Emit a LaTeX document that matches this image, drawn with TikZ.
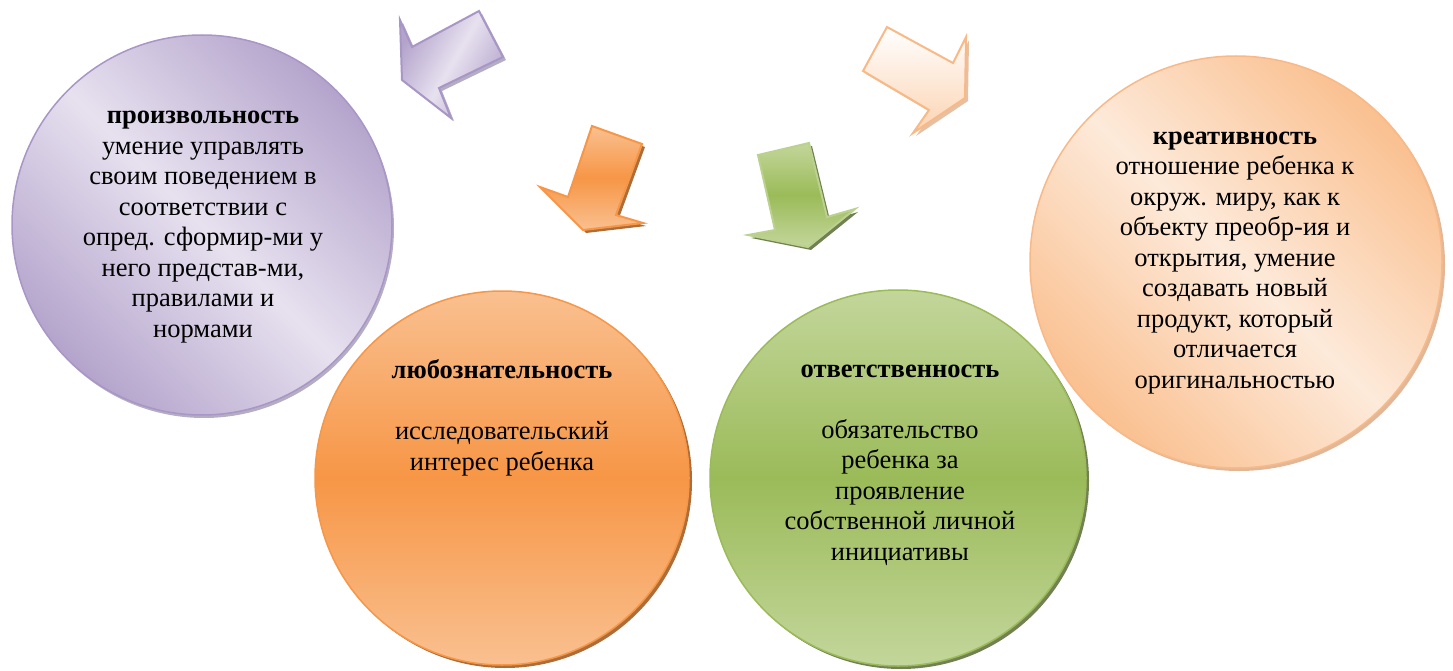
\documentclass[tikz,border=0pt]{standalone}
\usepackage{fontspec}
\setmainfont{Liberation Serif}
\usepackage{xcolor}
\usepackage{tikz}
\usetikzlibrary{positioning}
\usetikzlibrary{shapes,shadows,calc}

\definecolor{lilacDark}{RGB}{180,164,204}
\definecolor{lilacLight}{RGB}{231,225,239}
\definecolor{lilacLine}{RGB}{168,150,198}
\definecolor{lilacShadow}{RGB}{150,140,170}
\definecolor{orangeMid}{RGB}{247,150,70}
\definecolor{orangeLight}{RGB}{249,192,144}
\definecolor{orangeShadow}{RGB}{152,72,7}
\definecolor{greenMid}{RGB}{155,187,89}
\definecolor{greenLight}{RGB}{195,214,155}
\definecolor{greenShadow}{RGB}{79,98,40}
\definecolor{peachDark}{RGB}{250,192,144}
\definecolor{peachLight}{RGB}{253,234,218}
\definecolor{peachLine}{RGB}{249,185,135}
\definecolor{peachShadow}{RGB}{217,165,127}

\begin{document}
\begin{tikzpicture}[x=1pt,y=-1pt,
  bubble/.style={circle,draw,line width=1.5,inner sep=0},
  note/.style={align=center,font=\fontsize{26.5}{30.5}\selectfont},
  blockarrow/.style={line width=2,line join=miter}]
\useasboundingbox (0,0) rectangle (1453,671);

% circles
\node[bubble,minimum size=380,draw=lilacLine,top color=lilacDark,bottom color=lilacDark,middle color=lilacLight,shading angle=-45,
  drop shadow={shadow xshift=2pt,shadow yshift=-3pt,fill=lilacShadow,opacity=.7}] (volition) at (202,225) {};
\node[bubble,minimum size=374,draw=orangeMid,top color=orangeLight,bottom color=orangeLight,middle color=orangeMid,
  drop shadow={shadow xshift=3pt,shadow yshift=-3pt,fill=orangeShadow,opacity=.8}] (curiosity) at (502,478) {};
\node[bubble,minimum size=412,draw=peachLine,top color=peachDark,bottom color=peachDark,middle color=peachLight,shading angle=-45,
  drop shadow={shadow xshift=3pt,shadow yshift=-3pt,fill=peachShadow,opacity=.8}] (creativity) at (1236,262) {};
\node[bubble,minimum size=376,draw=greenMid,top color=greenLight,bottom color=greenLight,middle color=greenMid,
  drop shadow={shadow xshift=3pt,shadow yshift=-3pt,fill=greenShadow,opacity=.8}] (duty) at (898,478) {};

% texts
\node[note] (volitionText) at (203,227) {\textbf{произвольность}\\умение управлять\\своим поведением в\\соответствии с\\опред. сформир-ми у\\него представ-ми,\\правилами и\\нормами};
\node[note] (curiosityText) at (502,418) {\textbf{любознательность}\\[30.5pt]исследовательский\\интерес ребенка};
\node[note] (dutyText) at (900,465) {\textbf{ответственность}\\[30.5pt]обязательство\\ребенка за\\проявление\\собственной личной\\инициативы};
\node[note] (creativityText) at (1235,263) {\textbf{креативность}\\отношение ребенка к\\окруж. миру, как к\\объекту преобр-ия и\\открытия, умение\\создавать новый\\продукт, который\\отличается\\оригинальностью};

% arrows
\draw[blockarrow,draw=lilacLine,left color=lilacDark,right color=lilacDark,middle color=lilacLight,shading angle=60,
  drop shadow={shadow xshift=3pt,shadow yshift=-3pt,fill=lilacShadow,opacity=.7}]
  (479,11) -- (503,57) -- (439,88) -- (451,118) -- (402,80) -- (400,20) -- (412,47) -- cycle;
\draw[blockarrow,draw=orangeMid,top color=orangeLight,bottom color=orangeLight,middle color=orangeMid,
  drop shadow={shadow xshift=3pt,shadow yshift=-3pt,fill=orangeShadow,opacity=.8}]
  (592,126) -- (642,144) -- (616,215) -- (643,223) -- (583,230) -- (540,187) -- (568,197) -- cycle;
\draw[blockarrow,draw=greenLight!80!greenMid,top color=greenLight,bottom color=greenLight,middle color=greenMid,
  drop shadow={shadow xshift=3pt,shadow yshift=-3pt,fill=greenShadow,opacity=.8}]
  (758,155) -- (809,143) -- (827,217) -- (855,209) -- (808,247) -- (748,235) -- (775,230) -- cycle;
\draw[blockarrow,draw=peachLine,top color=white,bottom color=peachDark!70!white,
  drop shadow={shadow xshift=3pt,shadow yshift=-3pt,fill=peachShadow,opacity=.7}]
  (887,27) -- (863,71) -- (929,110) -- (913,133) -- (965,98) -- (966,37) -- (953,63) -- cycle;
\end{tikzpicture}
\end{document}
